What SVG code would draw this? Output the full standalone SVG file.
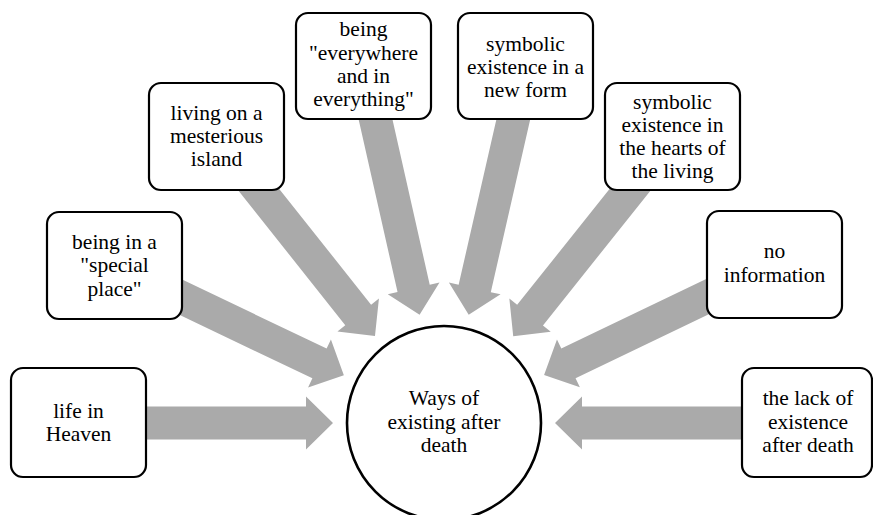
<svg xmlns="http://www.w3.org/2000/svg" width="873" height="515" viewBox="0 0 873 515">
<style>
.arr{fill:#aaaaaa;stroke:none}
.box{fill:#ffffff;stroke:#000000;stroke-width:2.2}
.t{font-family:"Liberation Serif","Times New Roman",serif;font-size:21.5px;fill:#000000;text-anchor:middle}
</style>
<defs>
<path id="arrow" d="M -366,-16.5 L -138,-16.5 L -138,-26.5 L -111,0 L -138,26.5 L -138,16.5 L -366,16.5 Z"/>
</defs>
<rect width="873" height="515" fill="#ffffff"/>
<g id="connectors">
<use href="#arrow" class="arr" transform="translate(444,423) rotate(0)"/>
<use href="#arrow" class="arr" transform="translate(444,423) rotate(25.55)"/>
<use href="#arrow" class="arr" transform="translate(444,423) rotate(51.55)"/>
<use href="#arrow" class="arr" transform="translate(444,423) rotate(77.29)"/>
<use href="#arrow" class="arr" transform="translate(444,423) rotate(102.86)"/>
<use href="#arrow" class="arr" transform="translate(444,423) rotate(128.58)"/>
<use href="#arrow" class="arr" transform="translate(444,423) rotate(154.38)"/>
<use href="#arrow" class="arr" transform="translate(444,423) rotate(180)"/>
</g>
<g id="center">
<circle cx="444" cy="423" r="97" fill="#ffffff" stroke="#000000" stroke-width="2.6"/>
<text class="t" x="444" y="405">Ways of</text>
<text class="t" x="444" y="429">existing after</text>
<text class="t" x="444" y="452">death</text>
</g>
<g id="heaven">
<rect class="box" x="11" y="368" width="135" height="109" rx="12"/>
<text class="t" x="78.5" y="418">life in</text>
<text class="t" x="78.5" y="441">Heaven</text>
</g>
<g id="special">
<rect class="box" x="47" y="212" width="135" height="107" rx="12"/>
<text class="t" x="114.5" y="248.5">being in a</text>
<text class="t" x="114.5" y="272">"special</text>
<text class="t" x="114.5" y="295.5">place"</text>
</g>
<g id="island">
<rect class="box" x="149" y="83" width="135" height="107" rx="12"/>
<text class="t" x="216.5" y="120">living on a</text>
<text class="t" x="216.5" y="143">mesterious</text>
<text class="t" x="216.5" y="166">island</text>
</g>
<g id="everywhere">
<rect class="box" x="296" y="13" width="135" height="106" rx="12"/>
<text class="t" x="363.5" y="36">being</text>
<text class="t" x="363.5" y="60">"everywhere</text>
<text class="t" x="363.5" y="83">and in</text>
<text class="t" x="363.5" y="106">everything"</text>
</g>
<g id="newform">
<rect class="box" x="458" y="13" width="135" height="106" rx="12"/>
<text class="t" x="525.5" y="51">symbolic</text>
<text class="t" x="525.5" y="74">existence in a</text>
<text class="t" x="525.5" y="97">new form</text>
</g>
<g id="hearts">
<rect class="box" x="605" y="83" width="135" height="107" rx="12"/>
<text class="t" x="672.5" y="108.5">symbolic</text>
<text class="t" x="672.5" y="131.5">existence in</text>
<text class="t" x="672.5" y="154.5">the hearts of</text>
<text class="t" x="672.5" y="177.5">the living</text>
</g>
<g id="noinfo">
<rect class="box" x="707" y="211" width="135" height="107" rx="12"/>
<text class="t" x="774.5" y="258">no</text>
<text class="t" x="774.5" y="282">information</text>
</g>
<g id="lack">
<rect class="box" x="742" y="368" width="130" height="109" rx="12"/>
<text class="t" x="808" y="405">the lack of</text>
<text class="t" x="808" y="428.5">existence</text>
<text class="t" x="808" y="452">after death</text>
</g>
</svg>
